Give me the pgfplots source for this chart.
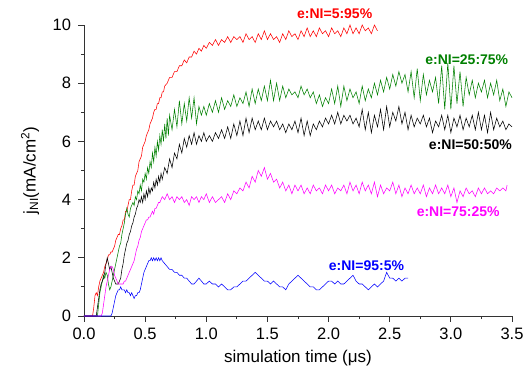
\documentclass[border=0pt]{standalone}
\usepackage{pgfplots}
\pgfplotsset{compat=1.18}
\usepackage{fontspec}
\setmainfont{Liberation Sans}
\definecolor{cgreen}{RGB}{0,128,0}
\definecolor{cmag}{RGB}{255,0,255}
\begin{document}
\begin{tikzpicture}
\path[use as bounding box] (-84pt,-53pt) rectangle (443pt,316pt);
\begin{axis}[
  at={(0pt,0pt)}, anchor=south west,
  width=428pt, height=291pt, scale only axis,
  xmin=0, xmax=3.5, ymin=0, ymax=10,
  axis lines=left, axis line style={-, line width=0.9pt, black!80},
  tick align=outside, major tick length=5.5pt, minor tick length=3pt,
  tick style={line width=0.8pt, black!80},
  xtick={0,0.5,...,3.5}, ytick={0,2,...,10},
  minor x tick num=1, minor y tick num=1,
  /pgf/number format/assume math mode=true,
  ticklabel style={font=\fontsize{16.5}{16.5}\selectfont},
  yticklabel style={xshift=-4pt},
  xticklabel style={yshift=-3pt, /pgf/number format/.cd, fixed, fixed zerofill, precision=1},
  xlabel={simulation time (μs)},
  ylabel={j\textsubscript{NI}(mA/cm\textsuperscript{2})},
  label style={font=\fontsize{17}{17}\selectfont},
  xlabel style={at={(axis description cs:0.5,-0.144)}, anchor=center},
  ylabel style={at={(axis description cs:-0.126,0.5)}, anchor=center},
  clip=false,
  every axis plot/.append style={line width=0.55pt},
]
% red 5:95
\addplot[red] coordinates {
(0,0) (0.07,0) (0.08,0.3) (0.09,0.7) (0.10,0.8) (0.11,0.7) (0.12,1.0) (0.13,1.2) (0.14,1.3) (0.15,1.4) (0.16,1.5) (0.17,1.7) (0.18,1.8) (0.19,1.9) (0.20,2.1) (0.21,2.1) (0.22,2.2) (0.23,2.2) (0.24,2.3) (0.25,2.4) (0.26,2.6) (0.27,2.7) (0.28,2.8) (0.29,2.8) (0.30,3.0) (0.31,3.1) (0.32,3.3) (0.33,3.3) (0.34,3.6) (0.35,3.6) (0.36,3.8) (0.37,4.0) (0.38,4.0) (0.39,4.3) (0.40,4.5) (0.41,4.5) (0.42,4.8) (0.43,4.9) (0.44,5.0) (0.45,5.3) (0.46,5.4) (0.47,5.5) (0.48,5.8) (0.49,5.9) (0.50,6.0) (0.51,6.2) (0.52,6.3) (0.53,6.4) (0.54,6.6) (0.55,6.7) (0.56,6.8) (0.57,7.0) (0.58,7.1) (0.59,7.1) (0.60,7.3) (0.61,7.3) (0.62,7.5) (0.63,7.5) (0.64,7.7) (0.65,7.7) (0.66,7.9) (0.68,8.0) (0.70,8.2) (0.72,8.2) (0.74,8.4) (0.76,8.4) (0.78,8.6) (0.80,8.6) (0.82,8.8) (0.84,8.7) (0.86,8.9) (0.88,8.9) (0.90,9.1) (0.92,9.0) (0.94,9.2) (0.96,9.1) (0.98,9.3) (1.00,9.2) (1.025,9.4) (1.05,9.3) (1.075,9.5) (1.10,9.3) (1.125,9.5) (1.15,9.4) (1.175,9.6) (1.20,9.4) (1.225,9.6) (1.25,9.5) (1.275,9.6) (1.30,9.4) (1.325,9.7) (1.35,9.5) (1.375,9.6) (1.40,9.4) (1.425,9.7) (1.45,9.5) (1.475,9.8) (1.50,9.5) (1.525,9.7) (1.55,9.5) (1.575,9.6) (1.60,9.4) (1.625,9.7) (1.65,9.5) (1.675,9.8) (1.70,9.6) (1.725,9.7) (1.75,9.5) (1.775,9.8) (1.80,9.6) (1.825,9.9) (1.85,9.6) (1.875,9.8) (1.90,9.6) (1.925,9.9) (1.95,9.7) (1.975,9.8) (2.00,9.6) (2.025,9.9) (2.05,9.7) (2.075,9.8) (2.10,9.6) (2.125,9.9) (2.15,9.7) (2.175,10.0) (2.20,9.7) (2.225,9.9) (2.25,9.7) (2.275,10.0) (2.30,9.8) (2.325,9.9) (2.35,9.7) (2.375,10.0) (2.40,9.8)
};
% green 25:75
\addplot[cgreen] coordinates {
(0,0) (0.11,0) (0.12,0.4) (0.13,0.8) (0.14,1.0) (0.15,1.2) (0.16,1.4) (0.17,1.3) (0.18,1.5) (0.19,1.4) (0.20,1.1) (0.21,0.9) (0.22,1.0) (0.23,1.2) (0.24,1.4) (0.25,1.6) (0.26,1.8) (0.27,2.0) (0.28,2.2) (0.29,2.4) (0.30,2.5) (0.31,2.8) (0.32,3.0) (0.33,3.2) (0.34,3.5) (0.35,3.7) (0.36,3.5) (0.37,3.4) (0.38,3.7) (0.39,3.8) (0.40,3.9) (0.41,3.8) (0.42,4.1) (0.43,4.0) (0.44,4.3) (0.45,4.2) (0.46,4.5) (0.47,4.3) (0.48,4.7) (0.49,4.6) (0.50,4.9) (0.51,4.7) (0.52,5.1) (0.53,4.9) (0.54,5.3) (0.55,5.1) (0.56,5.6) (0.57,5.3) (0.58,5.8) (0.59,5.5) (0.60,6.0) (0.61,5.7) (0.62,6.2) (0.63,5.9) (0.64,6.4) (0.65,6.0) (0.66,6.6) (0.67,6.1) (0.68,6.8) (0.69,6.2) (0.70,6.9) (0.72,6.4) (0.74,7.1) (0.76,6.5) (0.78,7.4) (0.80,6.6) (0.82,7.3) (0.84,6.7) (0.86,7.5) (0.88,6.8) (0.90,7.5) (0.92,6.6) (0.94,7.2) (0.96,6.9) (0.98,7.2) (1.00,6.9) (1.025,7.3) (1.05,7.0) (1.075,7.4) (1.10,7.0) (1.125,7.5) (1.15,7.1) (1.175,7.4) (1.20,7.2) (1.225,7.6) (1.25,7.2) (1.275,7.5) (1.30,7.3) (1.325,7.7) (1.35,7.2) (1.375,7.8) (1.40,7.3) (1.425,7.8) (1.45,7.4) (1.475,7.9) (1.50,7.4) (1.525,8.1) (1.55,7.4) (1.575,8.0) (1.60,7.4) (1.625,7.9) (1.65,7.5) (1.675,7.8) (1.70,7.6) (1.725,7.7) (1.75,7.5) (1.775,7.9) (1.80,7.6) (1.825,7.8) (1.85,7.5) (1.875,7.7) (1.90,7.3) (1.925,7.6) (1.95,7.2) (1.975,7.5) (2.00,7.3) (2.025,7.8) (2.05,7.3) (2.075,7.9) (2.10,7.2) (2.125,7.9) (2.15,7.4) (2.175,7.8) (2.20,7.5) (2.225,7.7) (2.25,7.3) (2.275,7.9) (2.30,7.4) (2.325,7.8) (2.35,7.5) (2.375,8.0) (2.40,7.6) (2.425,8.1) (2.45,7.7) (2.475,8.2) (2.50,7.8) (2.525,8.3) (2.55,7.9) (2.575,8.4) (2.60,8.0) (2.625,8.3) (2.65,7.7) (2.675,8.4) (2.70,7.5) (2.725,8.5) (2.75,7.4) (2.775,8.3) (2.80,7.6) (2.825,8.1) (2.85,7.7) (2.875,8.2) (2.90,7.3) (2.925,8.6) (2.95,7.1) (2.975,8.7) (3.00,7.1) (3.025,8.6) (3.05,7.3) (3.075,8.4) (3.10,7.2) (3.125,8.2) (3.15,7.6) (3.175,8.1) (3.20,7.5) (3.225,8.0) (3.25,7.7) (3.275,8.1) (3.30,7.5) (3.325,8.0) (3.35,7.6) (3.375,8.1) (3.40,7.4) (3.425,7.8) (3.45,7.2) (3.475,7.7) (3.50,7.5)
};
% black 50:50
\addplot[black] coordinates {
(0,0) (0.10,0) (0.11,0.3) (0.12,0.6) (0.13,0.9) (0.14,1.1) (0.15,1.2) (0.16,1.3) (0.17,1.5) (0.18,1.8) (0.19,2.0) (0.20,1.8) (0.21,1.6) (0.22,1.7) (0.23,1.5) (0.24,1.3) (0.25,1.2) (0.26,1.1) (0.27,1.1) (0.28,1.1) (0.29,1.2) (0.30,1.3) (0.31,1.6) (0.32,1.8) (0.33,2.1) (0.34,2.3) (0.35,2.5) (0.36,2.6) (0.37,2.8) (0.38,2.9) (0.39,3.1) (0.40,3.2) (0.41,3.4) (0.42,3.5) (0.43,3.7) (0.44,3.8) (0.45,4.0) (0.46,3.9) (0.47,4.1) (0.48,3.9) (0.49,4.2) (0.50,4.0) (0.51,4.3) (0.52,4.1) (0.53,4.4) (0.54,4.2) (0.55,4.4) (0.56,4.3) (0.57,4.6) (0.58,4.4) (0.59,4.7) (0.60,4.5) (0.61,4.8) (0.62,4.6) (0.63,4.9) (0.64,4.7) (0.66,5.1) (0.68,4.9) (0.70,5.4) (0.72,5.1) (0.74,5.6) (0.76,5.4) (0.78,5.9) (0.80,5.6) (0.82,6.1) (0.84,5.8) (0.86,6.2) (0.88,5.9) (0.90,6.3) (0.92,5.9) (0.94,6.2) (0.96,6.0) (0.98,6.3) (1.00,6.0) (1.025,6.2) (1.05,6.0) (1.075,6.3) (1.10,6.1) (1.125,6.4) (1.15,6.1) (1.175,6.5) (1.20,6.1) (1.225,6.6) (1.25,6.2) (1.275,6.7) (1.30,6.2) (1.325,6.8) (1.35,6.3) (1.375,6.8) (1.40,6.4) (1.425,6.7) (1.45,6.4) (1.475,6.8) (1.50,6.4) (1.525,6.7) (1.55,6.5) (1.575,6.7) (1.60,6.4) (1.625,6.6) (1.65,6.3) (1.675,6.6) (1.70,6.4) (1.725,6.7) (1.75,6.3) (1.775,6.8) (1.80,6.2) (1.825,6.7) (1.85,6.2) (1.875,6.6) (1.90,6.4) (1.925,6.7) (1.95,6.5) (1.975,6.8) (2.00,6.6) (2.025,6.9) (2.05,6.6) (2.075,7.0) (2.10,6.6) (2.125,6.9) (2.15,6.7) (2.175,6.9) (2.20,6.6) (2.225,6.8) (2.25,6.5) (2.275,7.1) (2.30,6.4) (2.325,7.0) (2.35,6.3) (2.375,6.9) (2.40,6.5) (2.425,7.1) (2.45,6.4) (2.475,7.2) (2.50,6.5) (2.525,7.0) (2.55,6.7) (2.575,7.2) (2.60,6.6) (2.625,7.0) (2.65,6.4) (2.675,6.9) (2.70,6.5) (2.725,6.8) (2.75,6.6) (2.775,6.9) (2.80,6.5) (2.825,6.8) (2.85,6.3) (2.875,6.7) (2.90,6.5) (2.925,6.9) (2.95,6.4) (2.975,6.9) (3.00,6.3) (3.025,6.8) (3.05,6.5) (3.075,6.9) (3.10,6.4) (3.125,6.8) (3.15,6.5) (3.175,6.9) (3.20,6.4) (3.225,7.0) (3.25,6.4) (3.275,6.9) (3.30,6.3) (3.325,7.0) (3.35,6.4) (3.375,6.8) (3.40,6.5) (3.425,6.7) (3.45,6.4) (3.475,6.6) (3.50,6.5)
};
% magenta 75:25
\addplot[cmag] coordinates {
(0,0) (0.14,0) (0.15,0.1) (0.16,0.4) (0.17,0.7) (0.18,1.0) (0.19,1.2) (0.20,1.4) (0.21,1.6) (0.22,1.7) (0.23,1.7) (0.24,1.6) (0.25,1.4) (0.26,1.3) (0.27,1.2) (0.28,1.1) (0.29,1.1) (0.30,1.1) (0.31,1.1) (0.32,1.1) (0.33,1.2) (0.34,1.2) (0.35,1.3) (0.36,1.4) (0.37,1.5) (0.38,1.6) (0.39,1.7) (0.40,1.8) (0.41,1.9) (0.42,2.1) (0.43,2.3) (0.44,2.4) (0.45,2.6) (0.46,2.7) (0.47,2.9) (0.48,3.0) (0.49,3.1) (0.50,3.2) (0.51,3.3) (0.52,3.3) (0.53,3.4) (0.54,3.4) (0.55,3.5) (0.56,3.6) (0.57,3.5) (0.58,3.7) (0.59,3.7) (0.60,3.8) (0.61,3.9) (0.62,3.9) (0.63,4.0) (0.64,4.1) (0.66,4.0) (0.68,4.2) (0.70,4.0) (0.72,4.1) (0.74,3.9) (0.76,4.1) (0.78,4.0) (0.80,4.1) (0.82,3.9) (0.84,4.0) (0.86,3.8) (0.88,4.1) (0.90,4.0) (0.92,4.1) (0.94,3.9) (0.96,4.1) (0.98,4.0) (1.00,4.2) (1.025,3.9) (1.05,4.1) (1.075,3.9) (1.10,4.0) (1.125,4.1) (1.15,3.9) (1.175,4.2) (1.20,4.0) (1.225,4.3) (1.25,4.2) (1.275,4.4) (1.30,4.3) (1.325,4.6) (1.35,4.4) (1.375,4.8) (1.40,4.6) (1.425,5.0) (1.45,4.8) (1.475,5.1) (1.50,4.7) (1.525,4.9) (1.55,4.6) (1.575,4.7) (1.60,4.4) (1.625,4.6) (1.65,4.3) (1.675,4.5) (1.70,4.2) (1.725,4.5) (1.75,4.3) (1.775,4.5) (1.80,4.2) (1.825,4.4) (1.85,4.2) (1.875,4.5) (1.90,4.3) (1.925,4.4) (1.95,4.2) (1.975,4.5) (2.00,4.3) (2.025,4.5) (2.05,4.2) (2.075,4.4) (2.10,4.3) (2.125,4.5) (2.15,4.2) (2.175,4.6) (2.20,4.3) (2.225,4.5) (2.25,4.2) (2.275,4.6) (2.30,4.3) (2.325,4.5) (2.35,4.2) (2.375,4.6) (2.40,4.1) (2.425,4.5) (2.45,4.2) (2.475,4.4) (2.50,4.3) (2.525,4.6) (2.55,4.2) (2.575,4.5) (2.60,4.1) (2.625,4.4) (2.65,4.2) (2.675,4.5) (2.70,4.2) (2.725,4.4) (2.75,4.2) (2.775,4.5) (2.80,4.1) (2.825,4.4) (2.85,4.2) (2.875,4.5) (2.90,4.2) (2.925,4.4) (2.95,4.2) (2.975,4.5) (3.00,4.1) (3.025,4.4) (3.05,3.9) (3.075,4.3) (3.10,4.1) (3.125,4.4) (3.15,4.2) (3.175,4.3) (3.20,4.1) (3.225,4.4) (3.25,4.2) (3.275,4.4) (3.30,4.2) (3.325,4.3) (3.35,4.2) (3.375,4.4) (3.40,4.3) (3.425,4.4) (3.45,4.3) (3.46,4.5)
};
% blue 95:5
\addplot[blue] coordinates {
(0,0) (0.22,0) (0.23,0.1) (0.24,0.3) (0.25,0.5) (0.26,0.7) (0.27,0.8) (0.28,0.9) (0.29,0.9) (0.30,1.0) (0.31,0.9) (0.32,0.9) (0.33,0.9) (0.34,0.8) (0.35,0.9) (0.36,0.8) (0.37,0.8) (0.38,0.7) (0.39,0.8) (0.40,0.7) (0.41,0.6) (0.42,0.7) (0.43,0.7) (0.44,0.8) (0.45,0.8) (0.46,0.9) (0.47,1.1) (0.48,1.3) (0.49,1.5) (0.50,1.6) (0.51,1.7) (0.52,1.8) (0.53,1.9) (0.54,1.9) (0.55,2.0) (0.56,1.9) (0.57,2.0) (0.58,1.9) (0.59,2.0) (0.60,1.9) (0.61,2.0) (0.62,1.9) (0.63,2.0) (0.64,1.9) (0.66,1.8) (0.68,1.7) (0.70,1.6) (0.72,1.6) (0.74,1.5) (0.76,1.5) (0.78,1.4) (0.80,1.4) (0.82,1.3) (0.84,1.3) (0.86,1.2) (0.88,1.1) (0.90,1.1) (0.92,1.2) (0.94,1.3) (0.96,1.2) (0.98,1.1) (1.00,1.1) (1.025,1.2) (1.05,1.1) (1.075,1.1) (1.10,1.0) (1.125,1.1) (1.15,1.0) (1.175,0.9) (1.20,0.9) (1.225,1.0) (1.25,1.0) (1.275,1.1) (1.30,1.2) (1.325,1.2) (1.35,1.3) (1.375,1.4) (1.40,1.5) (1.425,1.4) (1.45,1.3) (1.475,1.2) (1.50,1.2) (1.525,1.1) (1.55,1.2) (1.575,1.1) (1.60,1.0) (1.625,1.0) (1.65,0.9) (1.675,1.1) (1.70,1.2) (1.725,1.3) (1.75,1.4) (1.775,1.3) (1.80,1.2) (1.825,1.1) (1.85,1.0) (1.875,1.0) (1.90,0.9) (1.925,0.9) (1.95,1.0) (1.975,1.1) (2.00,1.2) (2.025,1.2) (2.05,1.1) (2.075,1.2) (2.10,1.1) (2.125,1.1) (2.15,1.2) (2.175,1.3) (2.20,1.4) (2.225,1.2) (2.25,1.1) (2.275,1.1) (2.30,1.0) (2.325,0.9) (2.35,1.0) (2.375,1.1) (2.40,1.0) (2.425,1.1) (2.45,1.2) (2.475,1.5) (2.50,1.3) (2.525,1.3) (2.55,1.2) (2.575,1.3) (2.60,1.2) (2.625,1.3) (2.65,1.3)
};
\node[red, font=\bfseries\fontsize{14}{14}\selectfont] at (axis cs:2.05,10.38) {e:NI=5:95\%};
\node[cgreen, font=\bfseries\fontsize{14}{14}\selectfont] at (axis cs:3.13,8.80) {e:NI=25:75\%};
\node[black, font=\bfseries\fontsize{14}{14}\selectfont] at (axis cs:3.16,5.88) {e:NI=50:50\%};
\node[cmag, font=\bfseries\fontsize{14}{14}\selectfont] at (axis cs:3.06,3.57) {e:NI=75:25\%};
\node[blue, font=\bfseries\fontsize{14}{14}\selectfont] at (axis cs:2.31,1.72) {e:NI=95:5\%};
\end{axis}
\end{tikzpicture}
\end{document}
